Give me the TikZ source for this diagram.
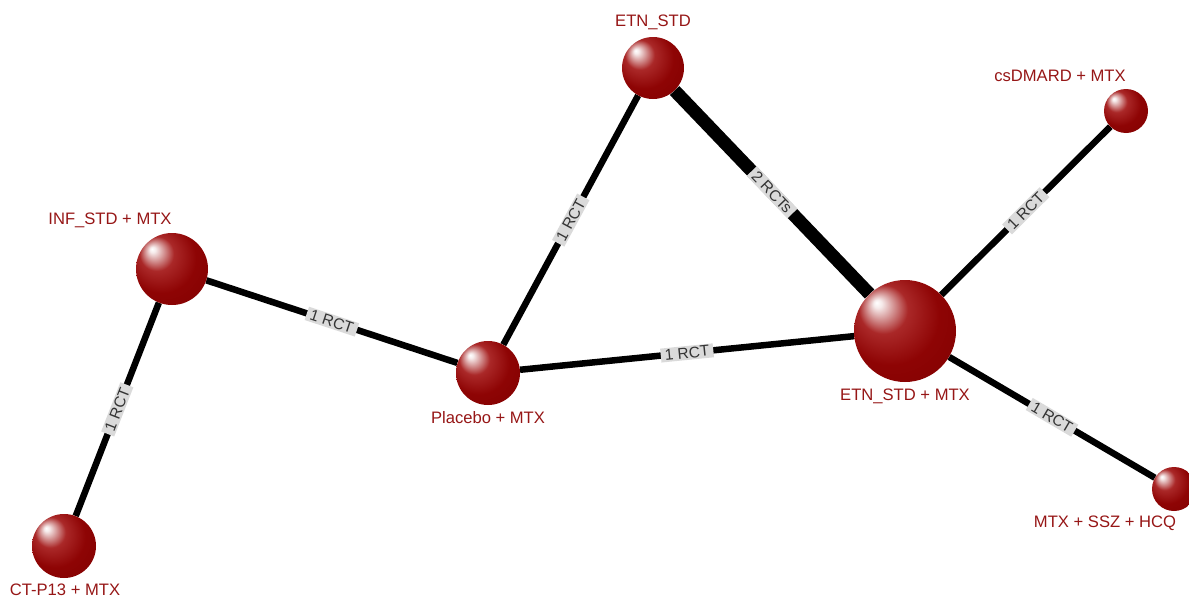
\documentclass[tikz,border=0pt]{standalone}
\usepackage{fontspec}
\setmainfont{Liberation Sans}
\usetikzlibrary{backgrounds}
\definecolor{lblred}{RGB}{150,22,22}
\definecolor{ballmid}{RGB}{170,40,40}
\definecolor{ballred}{RGB}{142,4,4}
\definecolor{balldark}{RGB}{122,0,0}
\definecolor{edgelbl}{RGB}{218,218,218}
\pgfdeclareradialshading{redball}{\pgfpoint{-14bp}{14bp}}{%
  color(0bp)=(white);
  color(2bp)=(white!92!ballred);
  color(12bp)=(ballmid);
  color(24bp)=(ballred);
  color(50bp)=(balldark)}
\tikzset{
  sphere/.style={circle, inner sep=0pt, draw=none, shading=redball, minimum size=#1},
  tname/.style={text=lblred, font=\fontsize{16.6}{18}\selectfont, inner sep=0pt},
  edge/.style={line width=6.5pt, black},
  thickedge/.style={line width=13pt, black},
  elab/.style={sloped, midway, fill=edgelbl, text=black!80, inner xsep=4pt, inner ysep=1.5pt,
    font=\fontsize{15.5}{16}\selectfont}
}
\begin{document}
\begin{tikzpicture}[x=1pt,y=-1pt]
\useasboundingbox (0,0) rectangle (1189,597);
% spheres
\node[sphere=62pt] (etn) at (653,68) {};
\node[sphere=44pt] (csd) at (1126,111) {};
\node[sphere=72pt] (inf) at (172,269) {};
\node[sphere=64pt] (plc) at (488,373) {};
\node[sphere=102pt] (etnm) at (905,331) {};
\node[sphere=44pt] (ssz) at (1174,489) {};
\node[sphere=64pt] (ctp) at (64,546) {};
% names
\node[tname] (etnL) at (653,22) {ETN\_STD};
\node[tname] (csdL) at (1060,76) {csDMARD + MTX};
\node[tname] (infL) at (110,220) {INF\_STD + MTX};
\node[tname] (plcL) at (488,418) {Placebo + MTX};
\node[tname] (etnmL) at (905,396) {ETN\_STD + MTX};
\node[tname] (sszL) at (1105,523) {MTX + SSZ + HCQ};
\node[tname] (ctpL) at (65,590) {CT-P13 + MTX};
% edges
\begin{scope}[on background layer]
\draw[thickedge] (etn) -- node[elab] {2 RCTs} (etnm);
\draw[edge] (plc) -- node[elab] {1 RCT} (etn);
\draw[edge] (inf) -- node[elab] {1 RCT} (plc);
\draw[edge] (plc) -- node[elab] {1 RCT} (etnm);
\draw[edge] (etnm) -- node[elab] {1 RCT} (csd);
\draw[edge] (etnm) -- node[elab] {1 RCT} (ssz);
\draw[edge] (ctp) -- node[elab] {1 RCT} (inf);
\end{scope}
\end{tikzpicture}
\end{document}
